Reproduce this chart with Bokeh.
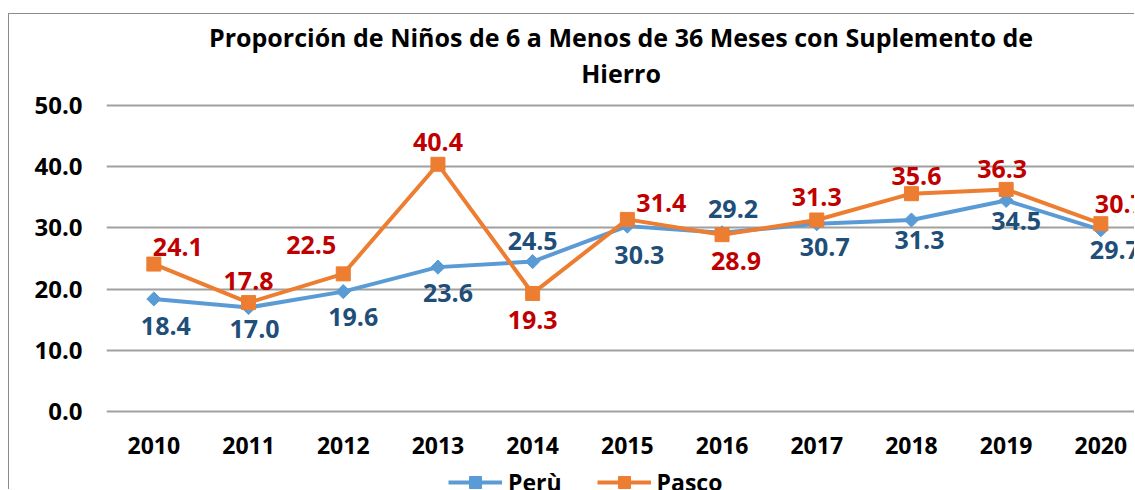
import math
from bokeh.plotting import figure
from bokeh.models import (Range1d, FixedTicker, NumeralTickFormatter, Title,
                          Legend, LegendItem)
from bokeh.core.properties import value
from bokeh.embed import file_html
from bokeh.resources import INLINE

# ---------------- data ----------------
years = [2010, 2011, 2012, 2013, 2014, 2015, 2016, 2017, 2018, 2019, 2020]
peru = [18.4, 17.0, 19.6, 23.6, 24.5, 30.3, 29.2, 30.7, 31.3, 34.5, 29.7]
pasco = [24.1, 17.8, 22.5, 40.4, 19.3, 31.4, 28.9, 31.3, 35.6, 36.3, 30.7]
y_ticks = [0, 10, 20, 30, 40, 50]
series_names = ["Perù", "Pasco"]
title_line1 = "Proporción de Niños de 6 a Menos de 36 Meses con Suplemento de"
title_line2 = "Hierro"

# ---------------- layout / style ----------------
FONT = "Open Sans"
W, H = 1126, 476
LEFT, TOP = 97, 88
PX_PER_CAT = 94.7      # horizontal pixels per category
PX_PER_UNIT = 6.12     # vertical pixels per y unit
Y_PAD = 0.5

# label placement offsets (pixels) for the data labels
peru_dx = [12, 6, 10, 10, 0, 12, 11, 8, 8, 10, 14]
peru_dy = [27, 21, 25, 26, -21, 29, -24, 23, 20, 21, 20]
pasco_dx = [24, 0, -32, 0, 0, 34, 14, 0, 5, -4, 19]
pasco_dy = [-17, -22, -29, -22, 27, -16, 26, -23, -18, -20, -20]

x_end = 2009.5 + (W - LEFT) / PX_PER_CAT
y_end = y_ticks[-1] + Y_PAD
# the plot frame reaches the bottom of the canvas so the legend fits inside it
y_start = y_end - (H - TOP) / PX_PER_UNIT

p = figure(width=W, height=H, output_backend="svg", toolbar_location=None,
           title=None,
           x_range=Range1d(2009.5, x_end),
           y_range=Range1d(y_start, y_end),
           min_border_left=LEFT, min_border_right=0,
           min_border_top=TOP, min_border_bottom=0)
p.styles = {"border-left": "1px solid #8c8c8c", "border-top": "1px solid #8c8c8c",
            "margin-top": "13px", "margin-left": "8px"}
p.outline_line_color = None
p.background_fill_color = "white"
p.border_fill_color = "white"

# axes
for ax in (p.xaxis[0], p.yaxis[0]):
    ax.axis_line_color = None
    ax.major_tick_line_color = None
    ax.minor_tick_line_color = None
    ax.major_tick_in = 0
    ax.major_tick_out = 0
    ax.major_label_text_font = FONT
    ax.major_label_text_font_style = "bold"
    ax.major_label_text_color = "black"
p.yaxis.major_label_text_font_size = "24px"
p.xaxis.major_label_text_font_size = "23px"
p.yaxis.ticker = FixedTicker(ticks=y_ticks)
p.yaxis.formatter = NumeralTickFormatter(format="0.0")
p.yaxis.major_label_standoff = 24
p.xaxis.ticker = FixedTicker(ticks=years)
p.xaxis.major_label_standoff = 25
p.xaxis.fixed_location = y_ticks[0]

p.xgrid.grid_line_color = None
p.ygrid.ticker = FixedTicker(ticks=y_ticks)
p.ygrid.grid_line_color = "#a0a0a0"
p.ygrid.grid_line_width = 2

# series
BLUE, ORANGE = "#5B9BD5", "#ED7D31"
r1l = p.line(years, peru, line_color=BLUE, line_width=4)
r1s = p.scatter(years, peru, marker="square", angle=math.pi / 4, size=10,
                fill_color=BLUE, line_color=BLUE)
r2l = p.line(years, pasco, line_color=ORANGE, line_width=4)
r2s = p.scatter(years, pasco, marker="square", size=14,
                fill_color=ORANGE, line_color=ORANGE)

# data labels
p.text(x=years, y=peru, text=[f"{v:.1f}" for v in peru],
       x_offset=peru_dx, y_offset=peru_dy,
       text_align="center", text_baseline="middle",
       text_font=value(FONT), text_font_style="bold", text_font_size="25px",
       text_color="#1F4E79")
p.text(x=years, y=pasco, text=[f"{v:.1f}" for v in pasco],
       x_offset=pasco_dx, y_offset=pasco_dy,
       text_align="center", text_baseline="middle",
       text_font=value(FONT), text_font_style="bold", text_font_size="25px",
       text_color="#C00000")

# titles (a blank spacer panel keeps the title block clear of the plot area)
spacer = Title(text=" ", text_font_size="9.5px", standoff=0)
t2 = Title(text=title_line2, align="center", text_font=FONT, standoff=0,
           text_font_style="bold", text_font_size="25px", text_color="black")
t1 = Title(text=title_line1, align="center", text_font=FONT, standoff=0,
           text_font_style="bold", text_font_size="25px", text_color="black")
p.add_layout(spacer, "above")
p.add_layout(t2, "above")
p.add_layout(t1, "above")

# legend
legend = Legend(items=[LegendItem(label=series_names[0], renderers=[r1l, r1s]),
                       LegendItem(label=series_names[1], renderers=[r2l, r2s])],
                orientation="horizontal", location=(342, -8),
                glyph_width=54, glyph_height=30, label_height=30,
                label_standoff=6, spacing=35, padding=0, margin=0,
                border_line_color=None, background_fill_alpha=0,
                label_text_font=FONT, label_text_font_style="bold",
                label_text_font_size="23px", label_text_color="black")
p.add_layout(legend, "center")

open("out.html", "w").write(file_html(p, INLINE))
